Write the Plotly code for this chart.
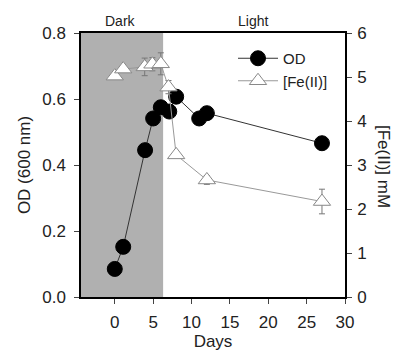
import plotly.graph_objects as go

od_days = [0, 1.1, 3.95, 5.0, 6.0, 7.1, 8.0, 11.0, 12.0, 27.0]
od_vals = [0.085, 0.152, 0.445, 0.541, 0.575, 0.562, 0.607, 0.541, 0.557, 0.466]

fe_days = [0, 1.1, 3.9, 4.9, 6.0, 7.0, 8.0, 12.0, 27.0]
fe_vals = [5.02, 5.18, 5.23, 5.29, 5.30, 4.77, 3.23, 2.66, 2.17]
fe_err = [0.0, 0.0, 0.2, 0.15, 0.25, 0.15, 0.05, 0.1, 0.28]

dark_end = 6.3
x_range = [-4.4, 30]

font = "Liberation Sans, Arial, sans-serif"

L, R, T, B = 81, 53, 33, 58
W, H = 398, 355
PW, PH = W - L - R, H - T - B


def px(x):
    return (x - L) / PW


def py(y):
    return (H - B - y) / PH


fig = go.Figure()

fig.add_trace(go.Scatter(
    x=od_days, y=od_vals, name="OD", mode="lines+markers",
    line=dict(color="#333333", width=1),
    marker=dict(symbol="circle", size=15, color="black", line=dict(color="black", width=1)),
    yaxis="y"))

fig.add_trace(go.Scatter(
    x=fe_days, y=fe_vals, name="[Fe(II)]", mode="lines+markers",
    line=dict(color="#999999", width=1),
    marker=dict(symbol="triangle-up", size=15, color="white", line=dict(color="#888888", width=1)),
    error_y=dict(type="data", array=fe_err, color="#777777", thickness=1, width=3),
    yaxis="y2"))

fig.add_shape(type="rect", xref="x", yref="paper", x0=x_range[0], x1=dark_end, y0=0, y1=1,
              fillcolor="#b0b0b0", line=dict(width=0), layer="below")

tickfont = dict(size=17)

fig.update_layout(
    width=W, height=H,
    margin=dict(l=L, r=R, t=T, b=B, autoexpand=False),
    paper_bgcolor="white", plot_bgcolor="white",
    font=dict(family=font, size=16, color="#222222"),
    showlegend=True,
    legend=dict(x=px(233), y=py(42), xanchor="left", yanchor="top", bgcolor="rgba(0,0,0,0)",
                font=dict(size=15), itemwidth=40, tracegroupgap=0),
    xaxis=dict(range=x_range, tickvals=[0, 5, 10, 15, 20, 25, 30], showgrid=False, zeroline=False,
               showline=True, linecolor="black", linewidth=1.5, mirror=True, automargin=False,
               ticks="outside", ticklen=5, tickcolor="#444444", tickfont=tickfont,
               ticklabelstandoff=4,
               title=dict(text="Days", standoff=4, font=dict(size=17))),
    yaxis=dict(range=[0, 0.8], tickvals=[0, 0.2, 0.4, 0.6, 0.8], tickformat=".1f",
               showgrid=False, zeroline=False, showline=True, linecolor="black", linewidth=1.5,
               automargin=False,
               ticks="outside", ticklen=5, tickcolor="#444444", tickfont=tickfont,
               ticklabelstandoff=5,
               title=dict(text="OD (600 nm)", standoff=7, font=dict(size=17))),
    yaxis2=dict(range=[0, 6], tickvals=[0, 1, 2, 3, 4, 5, 6], overlaying="y", side="right",
                showgrid=False, zeroline=False, showline=True, linecolor="black", linewidth=1.5,
                automargin=False,
                ticks="outside", ticklen=5, tickcolor="#444444", tickfont=tickfont,
                ticklabelstandoff=2),
    annotations=[
        dict(text="Dark", x=px(120), y=py(21), xref="paper", yref="paper", xanchor="center",
             yanchor="middle", showarrow=False, font=dict(size=14)),
        dict(text="Light", x=px(253), y=py(21), xref="paper", yref="paper", xanchor="center",
             yanchor="middle", showarrow=False, font=dict(size=14)),
        dict(text="[Fe(II)] mM", textangle=90, x=px(384), y=py(166), xref="paper", yref="paper",
             xanchor="center", yanchor="middle", showarrow=False, font=dict(size=17)),
    ],
)

fig.write_html("out.html", config={"displayModeBar": False},
               post_script="document.body.style.margin='0px';")
